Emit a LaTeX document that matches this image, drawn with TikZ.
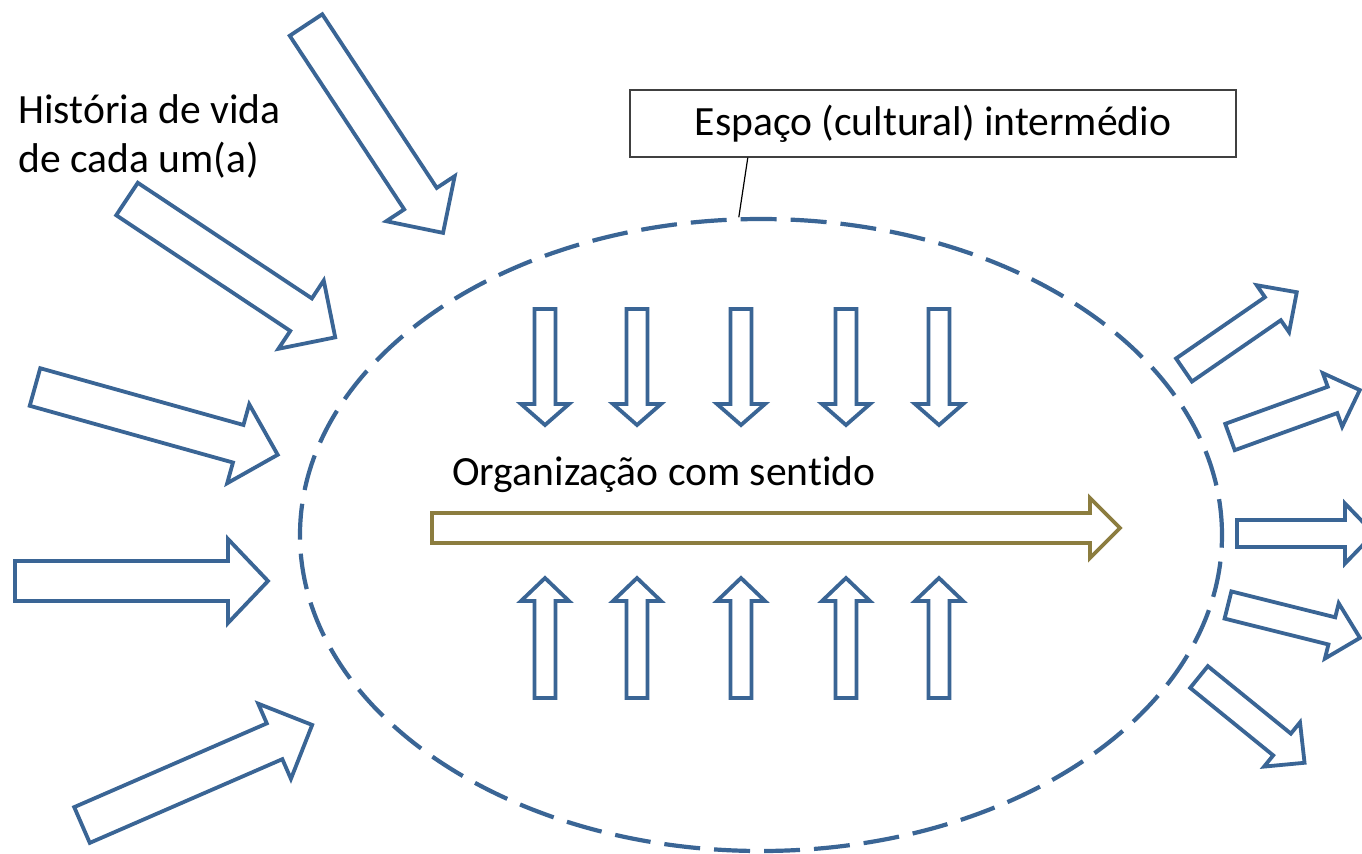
\documentclass[tikz,border=0pt]{standalone}
\usepackage{fontspec}
\setmainfont{Carlito}[Ligatures=NoCommon]
\usetikzlibrary{shapes.geometric,calc}
\definecolor{arrblue}{HTML}{3A6595}
\definecolor{arrolive}{HTML}{8C7D3F}
\definecolor{boxgray}{HTML}{404040}
\newcommand{\blockarr}[8]{%
  \begin{scope}[shift={(#2,#3)},rotate=#4]
    \draw[#1] (0,-#6) -- ({#5-#8},-#6) -- ({#5-#8},-#7) -- (#5,0) -- ({#5-#8},#7) -- ({#5-#8},#6) -- (0,#6) -- cycle;
  \end{scope}}
\tikzset{
  bluearr/.style={draw=arrblue, line width=1.9pt, line join=miter, fill=white},
  olivearr/.style={draw=arrolive, line width=1.9pt, line join=miter, fill=white},
  txt/.style={inner sep=0pt, font=\fontsize{20.8pt}{24.5pt}\selectfont},
}
\begin{document}
\begin{tikzpicture}[x=0.5pt,y=-0.5pt]
\useasboundingbox[fill=white] (0,0) rectangle (1362,853);
% dashed ellipse
\node[ellipse, draw=arrblue, line width=2.1pt, dash pattern=on 18pt off 7pt,
      minimum width=461pt, minimum height=316pt, inner sep=0pt] (ell) at (761,535) {};
% callout box
\node[txt, draw=boxgray, line width=0.6pt, minimum width=303pt, minimum height=33.5pt] (box) at (933,123.5) {Espaço (cultural) intermédio};
\draw[black, line width=0.6pt] ($(box.south west)!0.195!(box.south east)$) -- (ell.94);
% texts
\node[txt, anchor=base west, align=left] (hist) at (18,172) {História de vida\\de cada um(a)};
\node[txt, anchor=base west] (org) at (452,485) {Organização com sent\kern0pt ido};
% outer left arrows
\blockarr{bluearr}{306}{25}{-56.6}{249}{19.5}{41}{41}
\blockarr{bluearr}{127}{199}{-33.6}{250}{19.5}{41}{41}
\blockarr{bluearr}{35}{387}{-15.6}{252}{19.5}{41}{41}
\blockarr{bluearr}{15}{581}{0}{253}{20}{42}{40}
\blockarr{bluearr}{82}{825}{23.5}{251}{19.5}{41}{41}
% outer right arrows
\blockarr{bluearr}{1184}{370}{34.6}{137}{14}{28.5}{29}
\blockarr{bluearr}{1230}{437}{19.9}{138}{14}{28.5}{29}
\blockarr{bluearr}{1237}{533.5}{0}{137}{13.5}{30}{29}
\blockarr{bluearr}{1228}{605}{-14.0}{136}{14}{28.5}{29}
\blockarr{bluearr}{1199}{677}{-39.1}{136}{14}{28.5}{29}
% inner arrows
\foreach \cx in {545,637,741,846,939}{
  \blockarr{bluearr}{\cx}{309}{-90}{116}{10.5}{24}{21}
  \blockarr{bluearr}{\cx}{698}{90}{120}{10.5}{24}{23}
}
% olive arrow
\blockarr{olivearr}{432}{528}{0}{688}{15}{30}{30}
\end{tikzpicture}
\end{document}
